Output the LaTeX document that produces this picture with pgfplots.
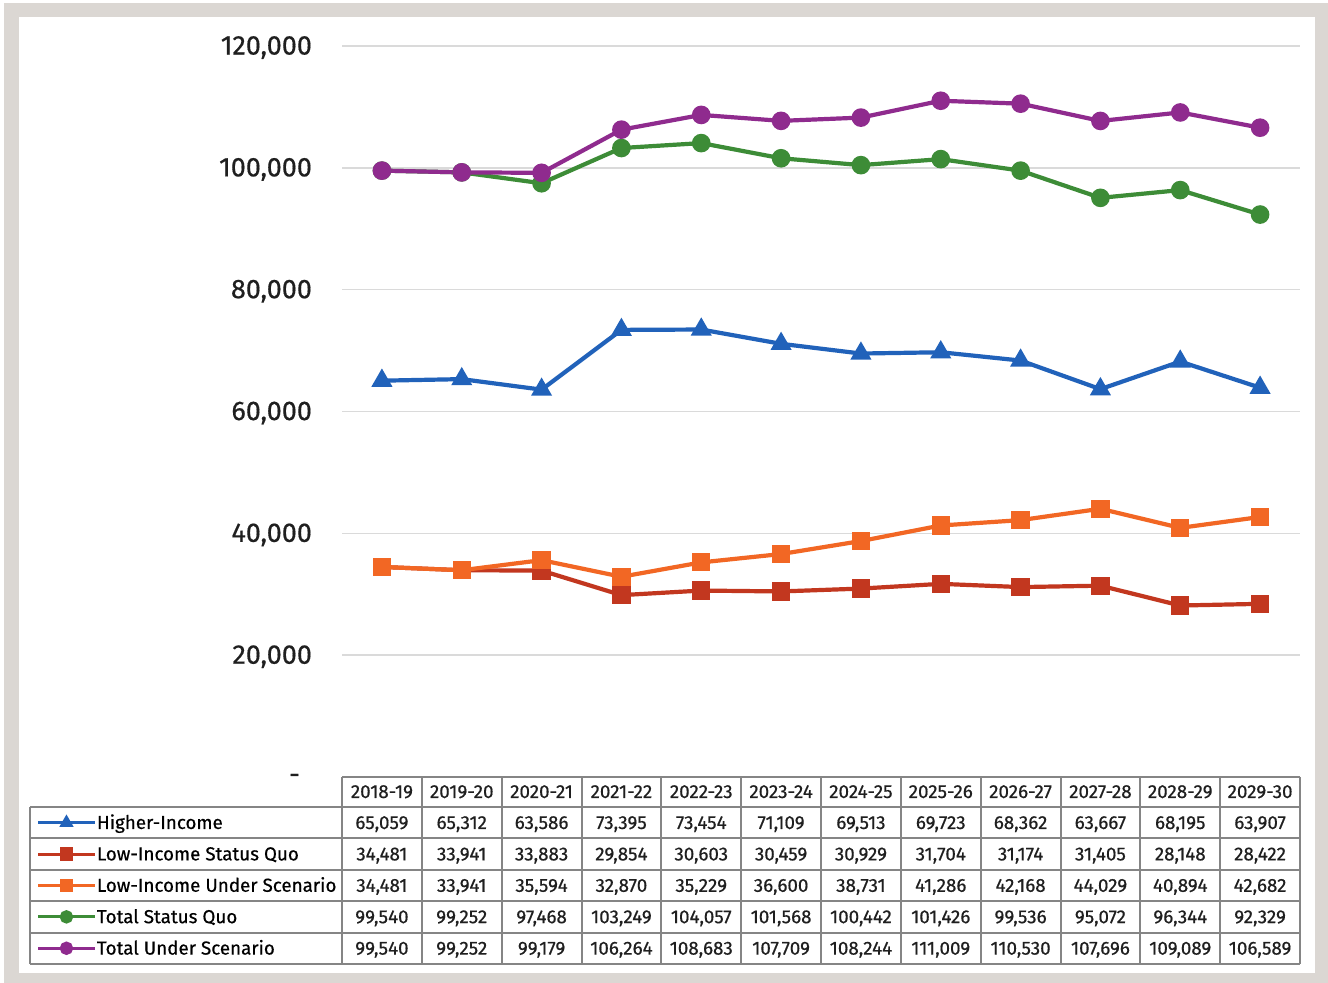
\documentclass[border=0pt]{standalone}
\usepackage{fontspec}
\setmainfont{Fira Sans}[FakeBold=0.5]
\usepackage{pgfplots}
\usepackage{pgfplotstable}
\pgfplotsset{compat=1.18}

\definecolor{cHi}{HTML}{2162BA}
\definecolor{cLsq}{HTML}{C2371F}
\definecolor{cLsc}{HTML}{F26724}
\definecolor{cTsq}{HTML}{3D8C37}
\definecolor{cTsc}{HTML}{8F2B8E}
\definecolor{framegray}{HTML}{DBD7D3}
\definecolor{tline}{HTML}{858585}
\definecolor{gridgray}{HTML}{DADADA}

\pgfplotstableread{
year hi lsq lsc tsq tsc
2018-19 65059 34481 34481 99540 99540
2019-20 65312 33941 33941 99252 99252
2020-21 63586 33883 35594 97468 99179
2021-22 73395 29854 32870 103249 106264
2022-23 73454 30603 35229 104057 108683
2023-24 71109 30459 36600 101568 107709
2024-25 69513 30929 38731 100442 108244
2025-26 69723 31704 41286 101426 111009
2026-27 68362 31174 42168 99536 110530
2027-28 63667 31405 44029 95072 107696
2028-29 68195 28148 40894 96344 109089
2029-30 63907 28422 42682 92329 106589
}\datatable

\newcommand\tabfont{\fontsize{9.4}{10}\selectfont}

\begin{document}
\begin{tikzpicture}
\begin{scope}[x=0.5pt,y=-0.5pt,shift={(0pt,491.5pt)}]
  \path[use as bounding box] (0,0) rectangle (1328,983);
  \fill[white] (0,0) rectangle (1328,983);
  \fill[framegray] (4,3) rectangle (1328,983);
  \fill[white] (19,17) rectangle (1315,973);
\end{scope}

\begin{axis}[
  at={(171pt,103pt)}, anchor=south west,
  scale only axis, width=479pt, height=365.5pt,
  xmin=-0.5, xmax=11.5, ymin=0, ymax=120000,
  axis line style={draw=none},
  major tick length=0pt,
  xtick=\empty,
  scaled y ticks=false,
  ytick={0,20000,40000,60000,80000,100000,120000},
  yticklabels={{-\hspace*{6pt}},{20,000},{40,000},{60,000},{80,000},{100,000},{120,000}},
  yticklabel style={font=\fontsize{13.5}{13.5}\selectfont, text=black!88, xshift=-11.5pt, yshift=-0.8pt},
  ymajorgrids, grid style={color=gridgray, line width=0.75pt},
  clip=false,
  legend style={at={(-0.3184,-0.0410)}, anchor=north west, draw=none, fill=none,
    inner sep=0pt, outer sep=0pt, row sep=0pt, column sep=0pt, font=\tabfont,
    nodes={inner sep=0pt, text height=11pt, text depth=4.7pt}},
  legend cell align=left,
  legend image code/.code={\draw[mark repeat=2,mark phase=2,#1] plot coordinates {(0pt,0pt) (14pt,0pt) (28.5pt,0pt)};},
  every legend image post/.style={line width=1.5pt, mark size=2.6pt},
]
\addplot[cHi, line width=2.1pt, mark=triangle*, mark size=4pt] table[x expr=\coordindex, y=hi]{\datatable};
\addlegendentry{Higher-Income}
\addplot[cLsq, line width=2.1pt, mark=square*, mark size=3.5pt] table[x expr=\coordindex, y=lsq]{\datatable};
\addlegendentry{Low-Income Status Quo}
\addplot[cLsc, line width=2.1pt, mark=square*, mark size=3.5pt] table[x expr=\coordindex, y=lsc]{\datatable};
\addlegendentry{Low-Income Under Scenario}
\addplot[cTsq, line width=2.1pt, mark=*, mark size=3.6pt] table[x expr=\coordindex, y=tsq]{\datatable};
\addlegendentry{Total Status Quo}
\addplot[cTsc, line width=2.1pt, mark=*, mark size=3.6pt] table[x expr=\coordindex, y=tsc]{\datatable};
\addlegendentry{Total Under Scenario}
\end{axis}

\begin{scope}[x=0.5pt,y=-0.5pt,shift={(0pt,491.5pt)}, tline, line width=1pt]
  \draw (342,777) -- (1300,777);
  \foreach \y in {807,838.4,869.8,901.2,932.6,964} \draw (30,\y) -- (1300,\y);
  \draw (30,807) -- (30,964);
  \foreach \k in {0,...,12} \draw ({342+79.833*\k},777) -- ({342+79.833*\k},964);
  \foreach \j in {0,...,11}{
    \pgfplotstablegetelem{\j}{year}\of\datatable
    \node[anchor=base, inner sep=0pt, font=\tabfont, text=black!88] at ({342+79.833*(\j+0.5)},798) {\pgfplotsretval};
    \foreach \c [count=\i from 0] in {hi,lsq,lsc,tsq,tsc}{
      \pgfplotstablegetelem{\j}{\c}\of\datatable
      \node[anchor=base, inner sep=0pt, font=\tabfont, text=black!88] at ({342+79.833*(\j+0.5)},{829+31.4*\i}) {\pgfmathprintnumber[fixed, precision=0, 1000 sep={,}, assume math mode=true]{\pgfplotsretval}};
    }
  }
\end{scope}
\end{tikzpicture}
\end{document}
